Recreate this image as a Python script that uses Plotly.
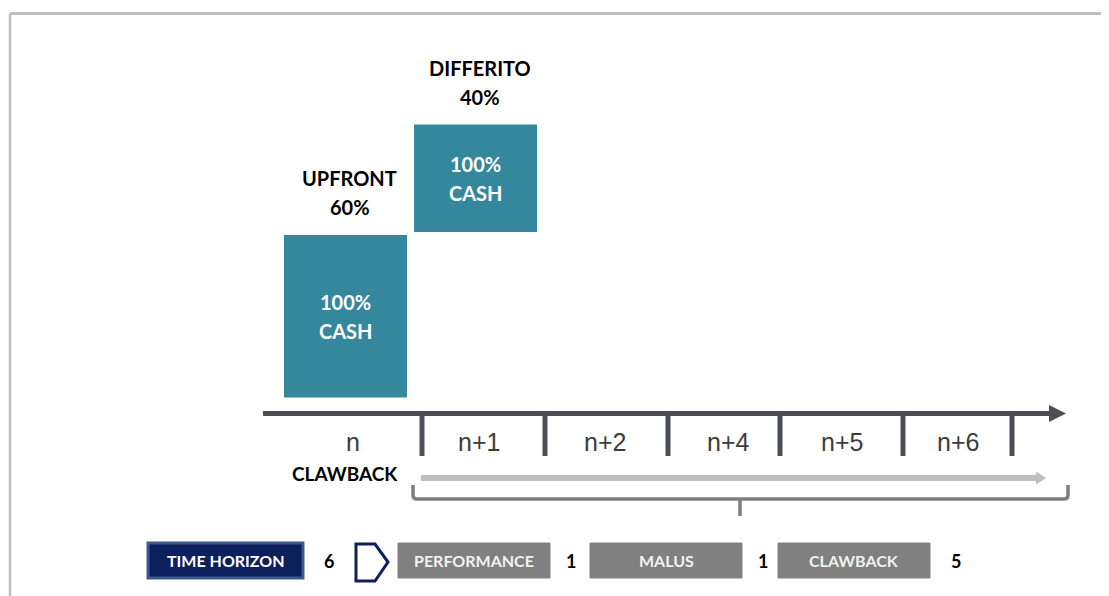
import plotly.graph_objects as go
import numpy as np

# ---------------- data ----------------
categories = ["n", "n+1"]
bar_titles = ["UPFRONT", "DIFFERITO"]
shares = [60, 40]
inner_line1 = ["100%", "100%"]
inner_line2 = ["CASH", "CASH"]
timeline_labels = ["n", "n+1", "n+2", "n+4", "n+5", "n+6"]
clawback_label = "CLAWBACK"
horizon_label = "TIME HORIZON"
horizon_years = 6
phase_labels = ["PERFORMANCE", "MALUS", "CLAWBACK"]
phase_years = [1, 1, 5]

# ---------------- layout constants (screen pixels) ----------------
OFF = 8                      # page body margin
SW, SH = 1109, 596           # screen size
W, H = SW - OFF, SH - OFF    # figure size
TEAL = "#34879d"
AXIS_DARK = "#4b4f55"
LIGHT = "#bfbfbf"
BRACE = "#7f7f7f"
NAVY = "#0d1f5c"
NAVY_EDGE = "#3b5b8c"
GRAY_BOX = "#808080"
FONT = "Lato"

bases = list(np.cumsum([0] + shares[:-1]))

fig = go.Figure()

# bars on their own value axis
fig.add_trace(go.Bar(
    x=categories, y=shares, base=bases,
    width=0.969,
    marker=dict(color=TEAL, line=dict(color="white", width=3)),
    xaxis="x2", yaxis="y2", hoverinfo="skip", showlegend=False,
))

# invisible trace to hold the pixel axis
fig.add_trace(go.Scatter(x=[OFF, SW], y=[OFF, SH], mode="markers",
                         marker=dict(opacity=0), hoverinfo="skip",
                         showlegend=False, xaxis="x", yaxis="y"))

shapes = []
annotations = []

# frame (top and left grey lines)
shapes.append(dict(type="line", x0=10, x1=SW, y0=13.5, y1=13.5,
                   line=dict(color=LIGHT, width=3), xref="x", yref="y"))
shapes.append(dict(type="line", x0=10, x1=10, y0=13.5, y1=SH,
                   line=dict(color=LIGHT, width=2.5), xref="x", yref="y"))

# titles above bars and inner labels (bar axis coordinates)
for cat, title, s, b, l1, l2 in zip(categories, bar_titles, shares, bases,
                                    inner_line1, inner_line2):
    for txt, ys in ((f"{s}%", 26), (title, 55)):
        annotations.append(dict(
            x=cat, y=b + s, xref="x2", yref="y2", yanchor="middle",
            yshift=ys, xshift=4, showarrow=False, text=txt,
            font=dict(family=FONT, size=20, color="black", weight="bold"),
        ))
    for txt, ys in ((l1, 14.5), (l2, -14.5)):
        annotations.append(dict(
            x=cat, y=b + s / 2, xref="x2", yref="y2", yanchor="middle",
            yshift=ys, showarrow=False, text=txt,
            font=dict(family=FONT, size=20, color="white", weight="bold"),
        ))

# main timeline arrow
AX_Y = 413.5
shapes.append(dict(type="line", x0=263, x1=1052, y0=AX_Y, y1=AX_Y,
                   line=dict(color=AXIS_DARK, width=5), xref="x", yref="y"))
shapes.append(dict(type="path", path=f"M 1049,405 L 1066,{AX_Y} L 1049,422 Z",
                   fillcolor=AXIS_DARK, line=dict(width=0), xref="x", yref="y"))

# timeline ticks and labels
tick_x = [422, 545, 668, 780, 903, 1012]
label_x = [353, 479, 605, 728, 842, 958]
for tx in tick_x:
    shapes.append(dict(type="line", x0=tx, x1=tx, y0=AX_Y, y1=456,
                       line=dict(color=AXIS_DARK, width=5), xref="x", yref="y"))
for lx, lab in zip(label_x, timeline_labels):
    annotations.append(dict(x=lx, y=442, xref="x", yref="y", showarrow=False,
                            text=lab, font=dict(family="Liberation Sans", size=25,
                                                color="#3c3c3c")))

# clawback label and light arrow
annotations.append(dict(x=345, y=473, xref="x", yref="y", showarrow=False,
                        text=clawback_label,
                        font=dict(family=FONT, size=19, color="black", weight="bold")))
shapes.append(dict(type="line", x0=421, x1=1038, y0=478, y1=478,
                   line=dict(color=LIGHT, width=6), xref="x", yref="y"))
shapes.append(dict(type="path", path="M 1036,471.5 L 1046,478 L 1036,484.5 Z",
                   fillcolor=LIGHT, line=dict(width=0), xref="x", yref="y"))

# brace
shapes.append(dict(type="path",
                   path=("M 413,485 L 413,495 Q 413,499 417,499 L 1064,499 "
                         "Q 1068,499 1068,495 L 1068,485 M 740,499 L 740,516"),
                   line=dict(color=BRACE, width=3.5), xref="x", yref="y"))

# bottom legend row
BY0, BY1 = 543, 578
BYC = (BY0 + BY1) / 2
shapes.append(dict(type="rect", x0=148, x1=303, y0=BY0, y1=BY1,
                   fillcolor=NAVY, line=dict(color=NAVY_EDGE, width=3),
                   xref="x", yref="y"))
annotations.append(dict(x=225.5, y=BYC, xref="x", yref="y", showarrow=False,
                        text=horizon_label,
                        font=dict(family=FONT, size=16, color="white", weight="bold")))
annotations.append(dict(x=329, y=BYC, xref="x", yref="y", showarrow=False,
                        text=str(horizon_years),
                        font=dict(family=FONT, size=18, color="black", weight="bold")))
# chevron
shapes.append(dict(type="path",
                   path="M 356,544 L 375,544 L 388,562 L 375,581 L 356,581 Z",
                   line=dict(color=NAVY, width=3), fillcolor="rgba(0,0,0,0)",
                   xref="x", yref="y"))

box_x = [(398, 550), (590, 742), (778, 930)]
num_x = [571, 763, 956]
for (x0, x1), lab, nx, yrs in zip(box_x, phase_labels, num_x, phase_years):
    shapes.append(dict(type="rect", x0=x0, x1=x1, y0=BY0, y1=BY1,
                       fillcolor=GRAY_BOX, line=dict(color=GRAY_BOX, width=1),
                       xref="x", yref="y"))
    annotations.append(dict(x=(x0 + x1) / 2, y=BYC, xref="x", yref="y",
                            showarrow=False, text=lab,
                            font=dict(family=FONT, size=16, color="#f2f2f2", weight="bold")))
    annotations.append(dict(x=nx, y=BYC, xref="x", yref="y", showarrow=False,
                            text=str(yrs),
                            font=dict(family=FONT, size=18, color="black", weight="bold")))

# bar axis placement (screen pixels -> paper fractions)
px_per_unit = 2.76
y_top = 110
bar_bottom_px = 399
bar_top_px = bar_bottom_px - y_top * px_per_unit
x2_dom = [(280.5 - OFF) / W, (540.5 - OFF) / W]
y2_dom = [(SH - bar_bottom_px) / H, (SH - bar_top_px) / H]

fig.update_layout(
    width=W, height=H,
    margin=dict(l=0, r=0, t=0, b=0),
    paper_bgcolor="white", plot_bgcolor="rgba(0,0,0,0)",
    xaxis=dict(range=[OFF, SW], domain=[0, 1], visible=False, fixedrange=True),
    yaxis=dict(range=[SH, OFF], domain=[0, 1], visible=False, fixedrange=True),
    xaxis2=dict(range=[-0.5, 1.5], domain=x2_dom, anchor="y2",
                visible=False, type="category", fixedrange=True),
    yaxis2=dict(range=[0, y_top], domain=y2_dom, anchor="x2",
                visible=False, fixedrange=True),
    shapes=shapes,
    annotations=annotations,
    showlegend=False,
)

fig.write_html("out.html", config={"displayModeBar": False})
